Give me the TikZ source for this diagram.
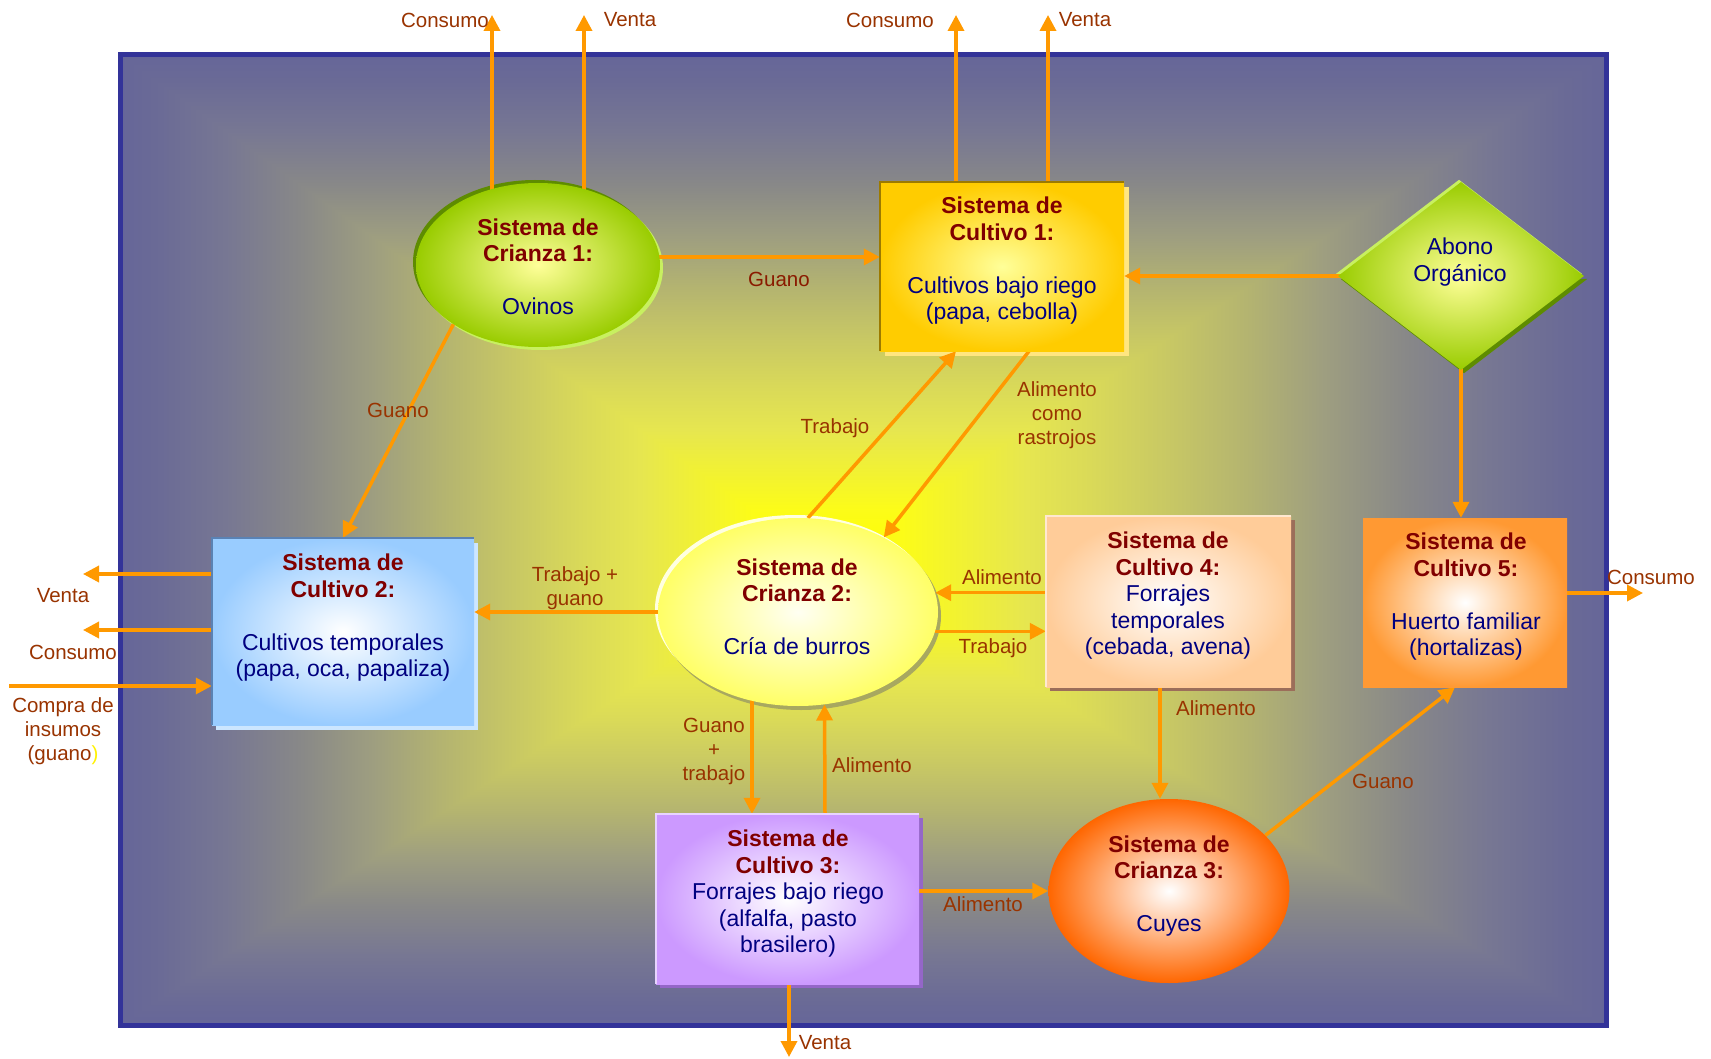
\documentclass[tikz,border=0pt]{standalone}
\usepackage{fontspec}
\setmainfont{Liberation Sans}
\usetikzlibrary{shapes.geometric,arrows.meta,calc}

% palette
\definecolor{framebl}{HTML}{333399}
\definecolor{slate}{HTML}{666699}
\definecolor{flowor}{HTML}{FF9900}
\definecolor{ttlred}{HTML}{800000}
\definecolor{bodyblue}{HTML}{000080}
\definecolor{lblbrown}{HTML}{993300}
\definecolor{lbldark}{HTML}{8A1A00}
\definecolor{greenout}{HTML}{99CC00}
\definecolor{greenin}{HTML}{FFFF99}
\definecolor{greendark}{HTML}{5E8C00}
\definecolor{greenlight}{HTML}{C8F060}
\definecolor{goldout}{HTML}{FFCC00}
\definecolor{goldin}{HTML}{FFFF99}
\definecolor{goldedge}{HTML}{9C7A00}
\definecolor{goldsh}{HTML}{FFE680}
\definecolor{blueout}{HTML}{99CCFF}
\definecolor{blueedge}{HTML}{5A82B4}
\definecolor{bluesh}{HTML}{CCE6FF}
\definecolor{creamout}{HTML}{FFFF66}
\definecolor{creamin}{HTML}{FFFFF2}
\definecolor{creamsh}{HTML}{A8A860}
\definecolor{creamhi}{HTML}{FFFFE0}
\definecolor{peachout}{HTML}{FFCC99}
\definecolor{peachsh}{HTML}{9C6E5A}
\definecolor{peachhi}{HTML}{FFE8D0}
\definecolor{orout}{HTML}{FF9933}
\definecolor{lilacout}{HTML}{CC99FF}
\definecolor{lilacsh}{HTML}{9466C8}
\definecolor{lilachi}{HTML}{E8D4FF}
\definecolor{redout}{HTML}{FF6600}

% steps of the glow, from the centre (g0) to the frame (g10)
\definecolor{g0}{HTML}{FFFF00}
\definecolor{g1}{HTML}{FCFC18}
\definecolor{g2}{HTML}{E6E650}
\definecolor{g3}{HTML}{DADA58}
\definecolor{g4}{HTML}{C8C864}
\definecolor{g5}{HTML}{B4B470}
\definecolor{g6}{HTML}{9E9E80}
\definecolor{g7}{HTML}{888888}
\definecolor{g8}{HTML}{777793}
\definecolor{g9}{HTML}{6A6A96}
\definecolor{g10}{HTML}{666699}

% rectangular glow built from four axis shadings (outward / inward)
\pgfdeclareverticalshading{glowup}{100bp}{color(0bp)=(g0); color(25bp)=(g0);
  color(30bp)=(g1); color(38bp)=(g2); color(42bp)=(g3); color(47bp)=(g4);
  color(52bp)=(g5); color(57bp)=(g6); color(62.25bp)=(g7); color(67.5bp)=(g8);
  color(72.5bp)=(g9); color(75bp)=(g10); color(100bp)=(g10)}
\pgfdeclareverticalshading{glowdown}{100bp}{color(0bp)=(g10); color(25bp)=(g10);
  color(27.5bp)=(g9); color(32.5bp)=(g8); color(37.75bp)=(g7); color(43bp)=(g6);
  color(48bp)=(g5); color(53bp)=(g4); color(58bp)=(g3); color(62bp)=(g2);
  color(70bp)=(g1); color(75bp)=(g0); color(100bp)=(g0)}
\pgfdeclarehorizontalshading{glowright}{100bp}{color(0bp)=(g0); color(25bp)=(g0);
  color(30bp)=(g1); color(38bp)=(g2); color(42bp)=(g3); color(47bp)=(g4);
  color(52bp)=(g5); color(57bp)=(g6); color(62.25bp)=(g7); color(67.5bp)=(g8);
  color(72.5bp)=(g9); color(75bp)=(g10); color(100bp)=(g10)}
\pgfdeclarehorizontalshading{glowleft}{100bp}{color(0bp)=(g10); color(25bp)=(g10);
  color(27.5bp)=(g9); color(32.5bp)=(g8); color(37.75bp)=(g7); color(43bp)=(g6);
  color(48bp)=(g5); color(53bp)=(g4); color(58bp)=(g3); color(62bp)=(g2);
  color(70bp)=(g1); color(75bp)=(g0); color(100bp)=(g0)}

\pgfdeclarelayer{bg}
\pgfdeclarelayer{shad}
\pgfdeclarelayer{conn}
\pgfsetlayers{bg,shad,conn,main}

\newcommand{\systtl}[1]{\textcolor{ttlred}{\bfseries #1}}
\newcommand{\sysbody}[1]{\textcolor{bodyblue}{#1}}

\begin{document}
\begin{tikzpicture}[x=1pt,y=-1pt,
  flow/.style={draw=flowor, line width=3.5pt, -{Triangle[length=16pt,width=16pt]}},
  boxshape/.style={rectangle, inner sep=0pt, shade},
  ovalshape/.style={ellipse, inner sep=0pt, shade},
  systext/.style={align=center, inner sep=0pt, font=\fontsize{23}{26.5}\selectfont},
  lbl/.style={align=center, inner sep=0pt, text=lblbrown, font=\fontsize{20.5}{24}\selectfont},
  lbld/.style={lbl, text=lbldark}]

\useasboundingbox (0,0) rectangle (1711,1059);

% framed field with its glow (centre of the glow at 823,561)
\begin{pgfonlayer}{bg}
  \fill[white] (0,0) rectangle (1711,1059);
  \shade[shading=glowleft] (120,55) rectangle (823,1025);
  \shade[shading=glowright] (823,55) rectangle (1606,1025);
  \shade[shading=glowup] (120,55) -- (1606,55) -- (823,561) -- cycle;
  \shade[shading=glowdown] (120,1025) -- (1606,1025) -- (823,561) -- cycle;
  \draw[framebl, line width=5pt] (120,55) rectangle (1606,1025);
\end{pgfonlayer}

% systems
\node[ovalshape, inner color=greenin, outer color=greenout,
      minimum width=244pt, minimum height=164pt] (cr1) at (538,265) {};
\node[boxshape, inner color=goldin, outer color=goldout,
      minimum width=244pt, minimum height=169pt] (cu1) at (1002,266.5) {};
\node[diamond, inner sep=0pt, shade, inner color=greenin, outer color=greenout,
      minimum width=246pt, minimum height=188pt] (ab) at (1461,276) {};
\node[boxshape, inner color=white, outer color=blueout,
      minimum width=262pt, minimum height=187pt] (cu2) at (343,631.5) {};
\node[ovalshape, inner color=creamin, outer color=creamout,
      minimum width=280pt, minimum height=188pt] (cr2) at (798,612) {};
\node[boxshape, inner color=white, outer color=peachout,
      minimum width=245pt, minimum height=171pt] (cu4) at (1168.5,601.5) {};
\node[boxshape, inner color=white, outer color=orout,
      minimum width=204pt, minimum height=169pt] (cu5) at (1465,602.5) {};
\node[boxshape, inner color=white, outer color=lilacout,
      minimum width=263pt, minimum height=170pt] (cu3) at (787.5,899) {};
\node[ovalshape, inner color=white, outer color=redout,
      minimum width=241pt, minimum height=184pt] (cr3) at (1169,891) {};

% rims and shadows of the shapes
\begin{pgfonlayer}{shad}
  \fill[greendark] ($(cr1.center)+(-3,-3)$) ellipse [x radius=122, y radius=82];
  \fill[greenlight] ($(cr1.center)+(3,3)$) ellipse [x radius=122, y radius=82];
  \fill[goldsh] ($(cu1.north west)+(5,5)$) rectangle ($(cu1.south east)+(5,5)$);
  \fill[greenlight] ($(ab.west)+(-2,-2)$) -- ($(ab.north)+(-2,-2)$) -- ($(ab.east)+(-2,-2)$) -- cycle;
  \fill[greendark] ($(ab.west)+(3,3)$) -- ($(ab.south)+(3,3)$) -- ($(ab.east)+(3,3)$) -- cycle;
  \fill[bluesh] ($(cu2.north west)+(4,5)$) rectangle ($(cu2.south east)+(4,5)$);
  \fill[creamhi] ($(cr2.center)+(-3,-3)$) ellipse [x radius=140, y radius=94];
  \fill[creamsh] ($(cr2.center)+(3,4)$) ellipse [x radius=140, y radius=94];
  \fill[peachsh] ($(cu4.north west)+(4,4)$) rectangle ($(cu4.south east)+(4,4)$);
  \fill[lilacsh] ($(cu3.north west)+(4,4)$) rectangle ($(cu3.south east)+(4,4)$);
\end{pgfonlayer}
\draw[goldedge, line width=2pt] (cu1.south west) -- (cu1.north west) -- (cu1.north east);
\draw[blueedge, line width=1.5pt] (cu2.south west) -- (cu2.north west) -- (cu2.north east);
\draw[peachhi, line width=1.5pt] (cu4.south west) -- (cu4.north west) -- (cu4.north east);
\draw[lilachi, line width=1.5pt] (cu3.south west) -- (cu3.north west) -- (cu3.north east);

% texts of the systems
\node[systext] (cr1t) at (538,267) {\systtl{Sistema de}\\\systtl{Crianza 1:}\\[26.5pt]\sysbody{Ovinos}};
\node[systext] (cu1t) at (1002,261) {\systtl{Sistema de}\\\systtl{Cultivo 1:}\\[26.5pt]\sysbody{Cultivos bajo riego}\\\sysbody{(papa, cebolla)}};
\node[systext] (abt) at (1460,262) {\sysbody{Abono}\\\sysbody{Orgánico}};
\node[systext] (cu2t) at (343,618) {\systtl{Sistema de}\\\systtl{Cultivo 2:}\\[26.5pt]\sysbody{Cultivos temporales}\\\sysbody{(papa, oca, papaliza)}};
\node[systext] (cr2t) at (797,607) {\systtl{Sistema de}\\\systtl{Crianza 2:}\\[26.5pt]\sysbody{Cría de burros}};
\node[systext] (cu4t) at (1168,596) {\systtl{Sistema de}\\\systtl{Cultivo 4:}\\\sysbody{Forrajes}\\\sysbody{temporales}\\\sysbody{(cebada, avena)}};
\node[systext] (cu5t) at (1466,597) {\systtl{Sistema de}\\\systtl{Cultivo 5:}\\[26.5pt]\sysbody{Huerto familiar}\\\sysbody{(hortalizas)}};
\node[systext] (cu3t) at (788,894) {\systtl{Sistema de}\\\systtl{Cultivo 3:}\\\sysbody{Forrajes bajo riego}\\\sysbody{(alfalfa, pasto}\\\sysbody{brasilero)}};
\node[systext] (cr3t) at (1169,886) {\systtl{Sistema de}\\\systtl{Crianza 3:}\\[26.5pt]\sysbody{Cuyes}};

% free ends of the outgoing and incoming flows
\coordinate (c1cons) at (492,15);
\coordinate (c1vent) at (584,15);
\coordinate (k1cons) at (956,15);
\coordinate (k1vent) at (1048,15);
\coordinate (k2vent) at (83,574);
\coordinate (k2cons) at (83,630);
\coordinate (k2buy) at (9,686);
\coordinate (k5cons) at (1643,593);
\coordinate (k3vent) at (789,1057);

% flows
\begin{pgfonlayer}{conn}
  \draw[flow] (cr1.center -| c1cons) -- (c1cons);
  \draw[flow] (cr1.center -| c1vent) -- (c1vent);
  \draw[flow] (cu1.center -| k1cons) -- (k1cons);
  \draw[flow] (cu1.center -| k1vent) -- (k1vent);
  \draw[flow] ([yshift=8pt]cr1.center) -- ([yshift=8pt]cr1.center -| cu1.west);
  \draw[flow] (cr1.215) -- (cu2.north);
  \draw[flow] (ab.center) -- (ab.center -| cu1.east);
  \draw[flow] (ab.center) -- (ab.center |- cu5.north);
  \draw[flow] (cu5.center |- k5cons) -- (k5cons);
  \draw[flow] (cu1.south -| 1029,0) -- (cr2.41);
  \draw[flow] (cr2.84) -- (cu1.south -| 956,0);
  \draw[flow] (cr2.center) -- (cr2.center -| cu2.east);
  \draw[flow] (cu2.center |- k2vent) -- (k2vent);
  \draw[flow] (cu2.center |- k2cons) -- (k2cons);
  \draw[flow] (k2buy) -- (k2buy -| cu2.west);
  \draw[flow] (cu4.center |- cr2.8) -- (cr2.8);
  \draw[flow] (cr2.-8) -- (cr2.-8 -| cu4.west);
  \draw[flow] (cu4.south -| 1160,0) -- (cr3.north -| 1160,0);
  \draw[flow] (cr2.center -| 752,0) -- (cu3.north -| 752,0);
  \draw[flow] (cu3.north -| 825,0) -- (cr2.286);
  \draw[flow] (cu3.center |- cr3.west) -- (cr3.west);
  \draw[flow] (cr3.30) -- (cu5.south -| 1455,0);
  \draw[flow] (cu3.center -| k3vent) -- (k3vent);
\end{pgfonlayer}

% flow labels
\node[lbl] (l1) at (445,20) {Consumo};
\node[lbl] (l2) at (630,20) {Venta};
\node[lbl] (l3) at (890,20) {Consumo};
\node[lbl] (l4) at (1085,20) {Venta};
\node[lbld] (l5) at (779,279) {Guano};
\node[lbl] (l6) at (398,410) {Guano};
\node[lbl] (l7) at (835,428) {Trabajo};
\node[lbl] (l8) at (1057,415) {Alimento\\como\\rastrojos};
\node[lbl] (l9) at (63,596) {Venta};
\node[lbl] (l10) at (73,652) {Consumo};
\node[lbl] (l11) at (63,731) {Compra de\\insumos\\(guano\textcolor{yellow}{)}};
\node[lbl] (l12) at (575,588) {Trabajo +\\guano};
\node[lbl] (l13) at (1002,577) {Alimento};
\node[lbl] (l14) at (993,648) {Trabajo};
\node[lbl] (l15) at (1216,708) {Alimento};
\node[lbl] (l16) at (714,751) {Guano\\+\\trabajo};
\node[lbl] (l17) at (872,765) {Alimento};
\node[lbl] (l18) at (983,904) {Alimento};
\node[lbl] (l19) at (1383,781) {Guano};
\node[lbl] (l20) at (1651,577) {Consumo};
\node[lbl] (l21) at (825,1043) {Venta};
\end{tikzpicture}
\end{document}
